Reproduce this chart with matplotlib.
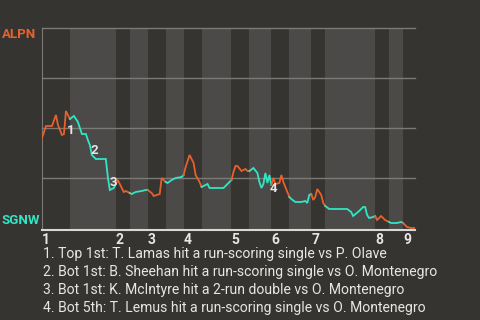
import matplotlib
matplotlib.use("Agg")
import matplotlib.pyplot as plt

plt.rcParams["font.family"] = ["Roboto", "DejaVu Sans"]

# game progress (play index) and ALPN win probability
plays = [0, 2, 5, 7, 8, 10, 11, 12, 14,
         16, 18, 20, 22, 23, 24, 25, 27, 32, 33, 34, 36, 37,
         38, 40, 41, 42, 44,
         45, 47, 50, 52, 53,
         55, 56, 59, 60, 62,
         63, 65, 67, 70, 71,
         72, 74, 76, 77, 79, 80,
         81, 83, 84, 91, 94, 95,
         96, 97, 98, 100, 102, 103, 104,
         106, 108, 109, 110, 111, 112, 113, 114, 115,
         116, 117, 119, 120, 121, 123, 124,
         125, 127, 130, 132, 133, 134, 135,
         136, 137, 138, 140, 141, 142,
         144, 153, 155, 156, 159, 161, 162, 163, 164, 166, 167,
         168, 170, 172, 174,
         175, 178, 180, 181,
         183, 185, 187]
win_prob = [0.45, 0.51, 0.51, 0.565, 0.515, 0.465, 0.47, 0.585, 0.545,
            0.56, 0.53, 0.47, 0.47, 0.44, 0.415, 0.365, 0.345, 0.345, 0.255, 0.19, 0.2, 0.22,
            0.24, 0.2, 0.18, 0.185, 0.175,
            0.17, 0.18, 0.185, 0.19, 0.19,
            0.175, 0.16, 0.17, 0.25, 0.23,
            0.225, 0.24, 0.25, 0.255, 0.265,
            0.305, 0.365, 0.325, 0.265, 0.23, 0.205,
            0.21, 0.22, 0.2, 0.2, 0.23, 0.24,
            0.28, 0.31, 0.31, 0.285, 0.295, 0.285, 0.285,
            0.3, 0.275, 0.23, 0.2, 0.22, 0.275, 0.225, 0.265, 0.215,
            0.25, 0.22, 0.225, 0.265, 0.23, 0.18, 0.155,
            0.145, 0.13, 0.13, 0.135, 0.125, 0.165, 0.17,
            0.14, 0.155, 0.195, 0.165, 0.125, 0.11,
            0.095, 0.095, 0.08, 0.06, 0.085, 0.105, 0.105, 0.065, 0.05, 0.055, 0.06,
            0.04, 0.06, 0.04, 0.03,
            0.025, 0.025, 0.03, 0.025,
            0.005, 0.0, 0.0]

# first play of each half inning (top 1st, bot 1st, ...) and last play
half_starts = [0, 14, 37, 44, 53, 62, 71, 80, 95, 104, 115, 124, 135, 142, 167, 174, 181]
last_play = 187
innings = ["1", "2", "3", "4", "5", "6", "7", "8", "9"]

home_team = "SGNW"
away_team = "ALPN"

ann_labels = ["1", "2", "3", "4"]
ann_x = [14.3, 26.2, 35.7, 116.2]
ann_y = [0.49, 0.39, 0.23, 0.20]
ann_text = [
    "1. Top 1st: T. Lamas hit a run-scoring single vs P. Olave",
    "2. Bot 1st: B. Sheehan hit a run-scoring single vs O. Montenegro",
    "3. Bot 1st: K. McIntyre hit a 2-run double vs O. Montenegro",
    "4. Bot 5th: T. Lemus hit a run-scoring single vs O. Montenegro",
]

BG = "#363431"
BAND = "#4c4a48"
ORANGE = "#e8602c"
CYAN = "#30e6c4"
GRID = "#7c7a77"
TXT = "#e6e6e6"

fig = plt.figure(figsize=(4.8, 3.2), dpi=100, facecolor=BG)
ax = fig.add_axes([42 / 480, 1 - 230 / 320, 373 / 480, 202 / 320])
ax.set_facecolor(BG)
ax.set_xlim(0, last_play)
ax.set_ylim(-0.01, 1.0)

ends = half_starts[1:] + [last_play]
for i, (s, e) in enumerate(zip(half_starts, ends)):
    if i % 2 == 1:
        ax.axvspan(s, e, color=BAND, lw=0, zorder=0)

for g in [0.25, 0.5, 0.75, 1.0]:
    ax.axhline(g, color=GRID, lw=1, zorder=1, clip_on=False)

for i, (s, e) in enumerate(zip(half_starts, ends)):
    xs = [p for p in plays if s <= p <= e]
    ys = [w for p, w in zip(plays, win_prob) if s <= p <= e]
    ax.plot(xs, ys, color=ORANGE if i % 2 == 0 else CYAN, lw=1.3,
            solid_joinstyle="miter", zorder=3)

for lab, x, y in zip(ann_labels, ann_x, ann_y):
    ax.text(x, y, lab, color=TXT, fontsize=9.5, fontweight="bold",
            ha="center", va="center", zorder=4)

for sp in ["top", "right"]:
    ax.spines[sp].set_visible(False)
ax.spines["left"].set_color(GRID)
ax.spines["bottom"].set_color("#d8d8d8")
ax.spines["bottom"].set_linewidth(1.5)
ax.set_yticks([])
ax.set_xticks(half_starts[::2])
ax.set_xticklabels(innings, color=TXT, fontsize=10, fontweight="bold", ha="left")
ax.tick_params(axis="x", length=0, pad=2)

fig.text(2 / 480, 1 - 35 / 320, away_team, color=ORANGE, fontsize=9.5,
         fontweight="bold", va="center")
fig.text(2 / 480, 1 - 221 / 320, home_team, color=CYAN, fontsize=9.5,
         fontweight="bold", va="center")

for k, t in enumerate(ann_text):
    fig.text(43 / 480, 1 - (254 + 18 * k) / 320, t, color=TXT, fontsize=10.1,
             va="center")

fig.savefig("out.png", dpi=100, facecolor=BG)
plt.close(fig)
